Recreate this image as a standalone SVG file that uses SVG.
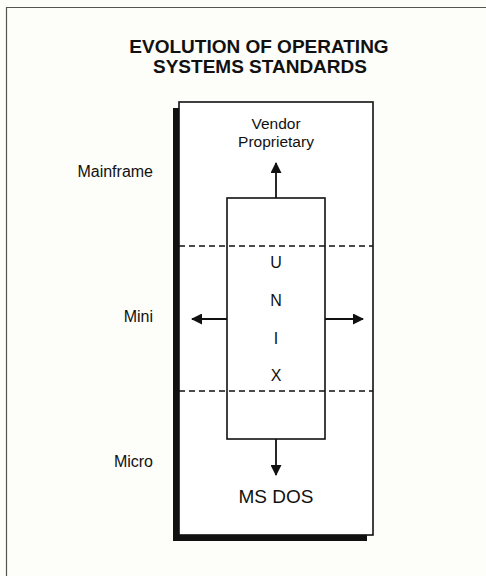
<svg xmlns="http://www.w3.org/2000/svg" width="486" height="576" viewBox="0 0 486 576">
<defs>
<style>
text{font-family:"Liberation Sans",Arial,sans-serif;fill:#111}
.t{font-weight:bold;font-size:19px;text-anchor:middle}
.l{font-size:16px;text-anchor:end}
.c{font-size:15.5px;text-anchor:middle}
.u{font-size:16px;text-anchor:middle}
.box{fill:#fff;stroke:#111;stroke-width:1.6}
.dash{stroke:#111;stroke-width:1.6;stroke-dasharray:6 4;fill:none}
.ln{stroke:#111;stroke-width:1.8;fill:none}
</style>
<marker id="ah" markerWidth="11" markerHeight="11" refX="10" refY="5.5" orient="auto" markerUnits="userSpaceOnUse">
<path d="M0,0 L11,5.5 L0,11 Z" fill="#111"/>
</marker>
</defs>
<rect width="486" height="576" fill="#fdfdf9"/>
<path d="M6.5,576 V7.5 H486" fill="none" stroke="#555" stroke-width="1.2"/>
<g id="title">
<text class="t" x="259" y="53">EVOLUTION OF OPERATING</text>
<text class="t" x="260" y="73">SYSTEMS STANDARDS</text>
</g>
<g id="frame">
<rect x="173" y="108" width="194" height="433" fill="#111"/>
<rect class="box" x="179" y="102" width="194" height="433"/>
</g>
<g id="levels">
<text class="l" x="153" y="177">Mainframe</text>
<text class="l" x="153" y="322">Mini</text>
<text class="l" x="153" y="467">Micro</text>
<line class="dash" x1="179" y1="246" x2="373" y2="246"/>
<line class="dash" x1="179" y1="391" x2="373" y2="391"/>
</g>
<g id="unix">
<rect x="227" y="198" width="98" height="241" fill="none" stroke="#111" stroke-width="1.6"/>
<text class="u" x="276" y="268">U</text>
<text class="u" x="276" y="306">N</text>
<text class="u" x="276" y="344">I</text>
<text class="u" x="276" y="381">X</text>
</g>
<g id="vendor">
<text class="c" x="276" y="129">Vendor</text>
<text class="c" x="276" y="147">Proprietary</text>
</g>
<g id="msdos">
<text x="276" y="503" style="font-size:19px;text-anchor:middle">MS DOS</text>
</g>
<g id="connectors">
<line class="ln" x1="276" y1="198" x2="276" y2="163" marker-end="url(#ah)"/>
<line class="ln" x1="227" y1="319" x2="192" y2="319" marker-end="url(#ah)"/>
<line class="ln" x1="325" y1="319" x2="363" y2="319" marker-end="url(#ah)"/>
<line class="ln" x1="276" y1="439" x2="276" y2="475" marker-end="url(#ah)"/>
</g>
</svg>
